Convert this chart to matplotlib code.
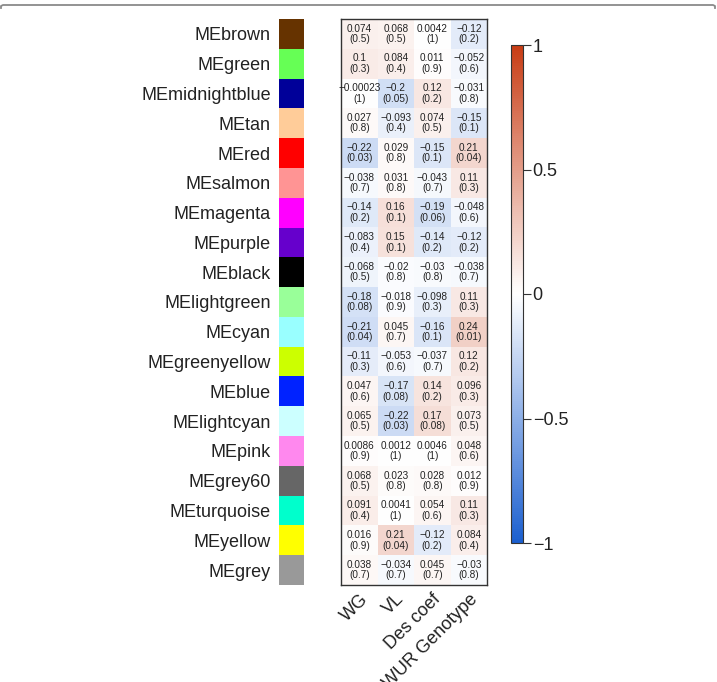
import numpy as np
import matplotlib
matplotlib.use("Agg")
import matplotlib.pyplot as plt
from matplotlib.colors import LinearSegmentedColormap
from matplotlib.lines import Line2D

plt.rcParams["font.family"] = ["Liberation Sans", "DejaVu Sans"]

modules = ["MEbrown", "MEgreen", "MEmidnightblue", "MEtan", "MEred", "MEsalmon",
           "MEmagenta", "MEpurple", "MEblack", "MElightgreen", "MEcyan",
           "MEgreenyellow", "MEblue", "MElightcyan", "MEpink", "MEgrey60",
           "MEturquoise", "MEyellow", "MEgrey"]
swatch = ["#663300", "#66ff55", "#000099", "#ffcc99", "#ff0000", "#ff9494",
          "#ff00ff", "#6600cc", "#000000", "#99ff99", "#99ffff",
          "#ccff00", "#0022ff", "#ccffff", "#ff88ee", "#666666",
          "#00ffcc", "#ffff00", "#999999"]
traits = ["WG", "VL", "Des coef", "WUR Genotype"]

wg = [0.074, 0.1, -0.00023, 0.027, -0.22, -0.038, -0.14, -0.083, -0.068, -0.18,
      -0.21, -0.11, 0.047, 0.065, 0.0086, 0.068, 0.091, 0.016, 0.038]
wg_p = [0.5, 0.3, 1, 0.8, 0.03, 0.7, 0.2, 0.4, 0.5, 0.08,
        0.04, 0.3, 0.6, 0.5, 0.9, 0.5, 0.4, 0.9, 0.7]
vl = [0.068, 0.084, -0.2, -0.093, 0.029, 0.031, 0.16, 0.15, -0.02, -0.018,
      0.045, -0.053, -0.17, -0.22, 0.0012, 0.023, 0.0041, 0.21, -0.034]
vl_p = [0.5, 0.4, 0.05, 0.4, 0.8, 0.8, 0.1, 0.1, 0.8, 0.9,
        0.7, 0.6, 0.08, 0.03, 1, 0.8, 1, 0.04, 0.7]
des = [0.0042, 0.011, 0.12, 0.074, -0.15, -0.043, -0.19, -0.14, -0.03, -0.098,
       -0.16, -0.037, 0.14, 0.17, 0.0046, 0.028, 0.054, -0.12, 0.045]
des_p = [1, 0.9, 0.2, 0.5, 0.1, 0.7, 0.06, 0.2, 0.8, 0.3,
         0.1, 0.7, 0.2, 0.08, 1, 0.8, 0.6, 0.2, 0.7]
wur = [-0.12, -0.052, -0.031, -0.15, 0.21, 0.11, -0.048, -0.12, -0.038, 0.11,
       0.24, 0.12, 0.096, 0.073, 0.048, 0.012, 0.11, 0.084, -0.03]
wur_p = [0.2, 0.6, 0.8, 0.1, 0.04, 0.3, 0.6, 0.2, 0.7, 0.3,
         0.01, 0.2, 0.3, 0.5, 0.6, 0.9, 0.3, 0.4, 0.8]

cor = np.array([wg, vl, des, wur]).T
pval = np.array([wg_p, vl_p, des_p, wur_p]).T
n = len(modules)

W, H = 717, 682
fig = plt.figure(figsize=(W / 100, H / 100), dpi=100)

def px_axes(x0, y0, x1, y1):
    return fig.add_axes([x0 / W, 1 - y1 / H, (x1 - x0) / W, (y1 - y0) / H])

cmap = LinearSegmentedColormap.from_list("bwr2", ["#1b5fcf", "#ffffff", "#c83c14"])

# module colour swatches
sax = px_axes(279, 19, 304, 585)
for i, c in enumerate(swatch):
    sax.add_patch(plt.Rectangle((0, i), 1, 1, color=c, lw=0))
sax.set_xlim(0, 1)
sax.set_ylim(n, 0)
sax.set_xticks([])
sax.set_yticks(np.arange(n) + 0.5)
sax.set_yticklabels(modules, fontsize=13, color="#222222")
sax.tick_params(axis="y", length=0, pad=6)
for s in sax.spines.values():
    s.set_visible(False)

# heatmap
ax = px_axes(341, 19, 487, 585)
im = ax.imshow(cor, cmap=cmap, vmin=-1, vmax=1, aspect="auto",
               extent=(0, 4, n, 0), interpolation="nearest")
for i in range(n):
    for j in range(4):
        r = cor[i, j]
        txt = "{:.2g}".format(r).replace("-", "\u2212") + "\n(" + "{:.1g}".format(pval[i, j]) + ")"
        ax.text(j + 0.5, i + 0.5, txt, ha="center", va="center", fontsize=7.2,
                color="#222222", linespacing=1.05)
ax.set_xlim(0, 4)
ax.set_ylim(n, 0)
ax.set_yticks([])
ax.set_xticks(np.arange(4) + 0.5)
ax.set_xticklabels(traits, rotation=45, ha="right", va="top", fontsize=13,
                   rotation_mode="anchor", color="#222222")
ax.tick_params(axis="x", length=0, pad=4)
for s in ax.spines.values():
    s.set_color("#333333")
    s.set_linewidth(1.0)

# colour bar
cax = px_axes(511, 45, 523, 543)
cb = fig.colorbar(im, cax=cax, ticks=[-1, -0.5, 0, 0.5, 1])
cb.ax.set_yticklabels(["\u22121", "\u22120.5", "0", "0.5", "1"], fontsize=13, color="#222222")
cb.ax.tick_params(length=6, width=0.8, color="#333333", pad=1)
cb.outline.set_linewidth(0.8)
cb.outline.set_edgecolor("#333333")

# panel frame (top edge only visible)
fy = 1 - 5 / H
fig.lines.append(Line2D([1 / W, 1 / W, 3 / W, 713 / W, 715 / W, 715 / W],
                        [fy - 3 / H, fy - 1 / H, fy, fy, fy - 1 / H, fy - 3 / H],
                        transform=fig.transFigure, color="#8a8a8a", lw=1.3))

fig.savefig("out.png", dpi=100)
